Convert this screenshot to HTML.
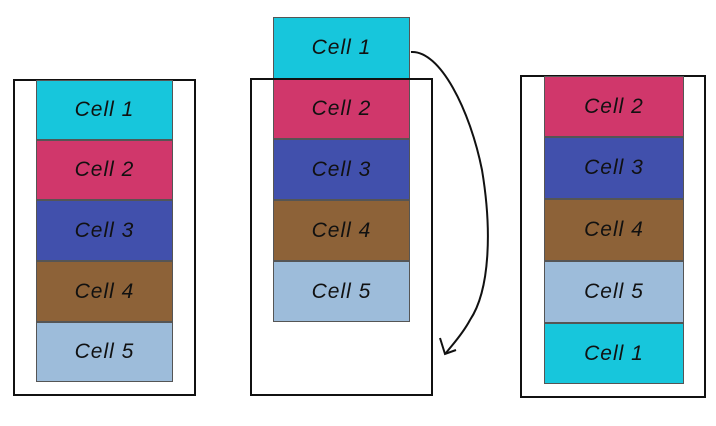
<!DOCTYPE html>
<html><head><style>
body{margin:0;background:#fff;width:716px;height:426px;position:relative;overflow:hidden;font-family:"Liberation Sans",sans-serif}
.b{position:absolute;border:2px solid #111;box-sizing:border-box}
.c{position:absolute;box-sizing:border-box;border:1px solid #555;display:flex;align-items:center;justify-content:center;font-size:21px;color:#111;letter-spacing:1px;font-style:italic;font-weight:normal}
.c1{background:#17c6dc}.c2{background:#d0376b}.c3{background:#4150ac}.c4{background:#8d6238}.c5{background:#9dbcda}
</style></head><body>
<div class="b" style="left:13px;top:79px;width:183px;height:317px"></div>
<div class="c c1" style="left:36px;top:80px;width:137px;height:60px">Cell 1</div>
<div class="c c2" style="left:36px;top:140px;width:137px;height:60px">Cell 2</div>
<div class="c c3" style="left:36px;top:200px;width:137px;height:61px">Cell 3</div>
<div class="c c4" style="left:36px;top:261px;width:137px;height:61px">Cell 4</div>
<div class="c c5" style="left:36px;top:322px;width:137px;height:60px">Cell 5</div>

<div class="c c1" style="left:273px;top:17px;width:137px;height:62px">Cell 1</div>
<div class="c c2" style="left:273px;top:78px;width:137px;height:61px">Cell 2</div>
<div class="c c3" style="left:273px;top:139px;width:137px;height:61px">Cell 3</div>
<div class="c c4" style="left:273px;top:200px;width:137px;height:61px">Cell 4</div>
<div class="c c5" style="left:273px;top:261px;width:137px;height:61px">Cell 5</div>
<div class="b" style="left:250px;top:78px;width:183px;height:318px"></div>

<div class="b" style="left:520px;top:75px;width:186px;height:323px"></div>
<div class="c c2" style="left:544px;top:76px;width:140px;height:61px">Cell 2</div>
<div class="c c3" style="left:544px;top:137px;width:140px;height:62px">Cell 3</div>
<div class="c c4" style="left:544px;top:199px;width:140px;height:62px">Cell 4</div>
<div class="c c5" style="left:544px;top:261px;width:140px;height:62px">Cell 5</div>
<div class="c c1" style="left:544px;top:323px;width:140px;height:61px">Cell 1</div>

<svg width="716" height="426" style="position:absolute;left:0;top:0">
<path d="M411 52 C440 50 470 110 482 170 C492 230 490 290 470 320 C462 335 452 345 446 353" fill="none" stroke="#111" stroke-width="2"/>
<path d="M440 338 L445 354 L456 350" fill="none" stroke="#111" stroke-width="2"/>
</svg>
</body></html>
